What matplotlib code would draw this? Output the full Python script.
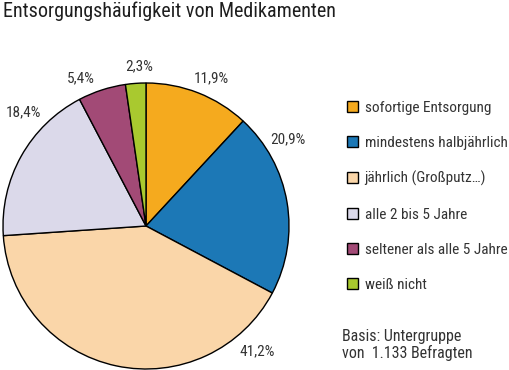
import matplotlib.pyplot as plt

plt.rcParams['font.family'] = ['Roboto Condensed', 'DejaVu Sans']

# Daten
categories = ['sofortige Entsorgung', 'mindestens halbjährlich', 'jährlich (Großputz…)',
              'alle 2 bis 5 Jahre', 'seltener als alle 5 Jahre', 'weiß nicht']
values = [11.9, 20.9, 41.2, 18.4, 5.4, 2.3]
value_labels = ['11,9%', '20,9%', '41,2%', '18,4%', '5,4%', '2,3%']
colors = ['#F5AA1E', '#1C78B6', '#FAD6A9', '#DBD9EA', '#A24A76', '#A9C92F']

# Label-Positionen in Pixeln (Mitte des Textes)
label_px = [(211, 78), (288, 139), (257, 351), (23, 112), (81, 78), (139, 66)]

W, H = 510, 370
fig = plt.figure(figsize=(W / 100, H / 100), dpi=100)

# Torte: Mittelpunkt ~ (146, 226), Radius ~143 px
cx, cy, r = 146, 226, 143
ax = fig.add_axes([(cx - r) / W, (H - cy - r) / H, 2 * r / W, 2 * r / H])
wedges, _ = ax.pie(values, colors=colors, startangle=90, counterclock=False,
                   wedgeprops=dict(edgecolor='black', linewidth=1.0))
ax.set_xlim(-1, 1)
ax.set_ylim(-1, 1)
ax.set_aspect('auto')

for txt, (px, py) in zip(value_labels, label_px):
    fig.text(px / W, 1 - py / H, txt, ha='center', va='center',
             fontsize=11, color='#333333')

fig.text(3 / W, 1 - 11 / H, 'Entsorgungshäufigkeit von Medikamenten',
         ha='left', va='center', fontsize=14.5, color='#1e1e1e')

leg = fig.legend(wedges, categories, loc='upper left',
                 bbox_to_anchor=(347 / W, 1 - 101 / H), frameon=False,
                 fontsize=11, handlelength=0.75, handleheight=0.75,
                 handletextpad=0.4, labelspacing=1.38, borderaxespad=0,
                 borderpad=0, labelcolor='#333333')

fig.text(342 / W, 1 - 345 / H, 'Basis: Untergruppe\nvon  1.133 Befragten',
         ha='left', va='center', fontsize=11.5, color='#333333', linespacing=1.0)

fig.savefig('out.png', dpi=100)
